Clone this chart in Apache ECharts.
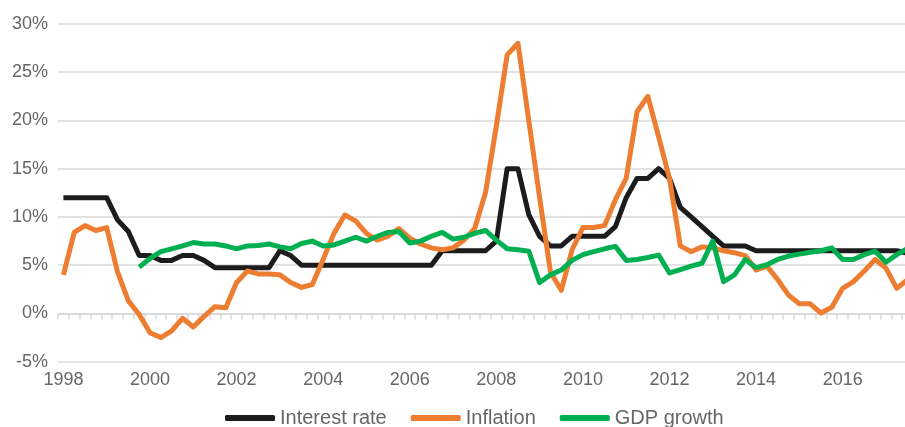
<!DOCTYPE html>
<html>
<head>
<meta charset="utf-8">
<script src="https://cdn.jsdelivr.net/npm/echarts@6/dist/echarts.min.js"></script>
<style>
  html, body { margin: 0; padding: 0; background: #ffffff; }
  #chart { width: 905px; height: 427px; }
</style>
</head>
<body>
<div id="chart"></div>
<script>
var quarters = [
  "1998Q1","1998Q2","1998Q3","1998Q4","1999Q1","1999Q2","1999Q3","1999Q4",
  "2000Q1","2000Q2","2000Q3","2000Q4","2001Q1","2001Q2","2001Q3","2001Q4",
  "2002Q1","2002Q2","2002Q3","2002Q4","2003Q1","2003Q2","2003Q3","2003Q4",
  "2004Q1","2004Q2","2004Q3","2004Q4","2005Q1","2005Q2","2005Q3","2005Q4",
  "2006Q1","2006Q2","2006Q3","2006Q4","2007Q1","2007Q2","2007Q3","2007Q4",
  "2008Q1","2008Q2","2008Q3","2008Q4","2009Q1","2009Q2","2009Q3","2009Q4",
  "2010Q1","2010Q2","2010Q3","2010Q4","2011Q1","2011Q2","2011Q3","2011Q4",
  "2012Q1","2012Q2","2012Q3","2012Q4","2013Q1","2013Q2","2013Q3","2013Q4",
  "2014Q1","2014Q2","2014Q3","2014Q4","2015Q1","2015Q2","2015Q3","2015Q4",
  "2016Q1","2016Q2","2016Q3","2016Q4","2017Q1","2017Q2","2017Q3"
];

var yearTickLabels = ["1998","2000","2002","2004","2006","2008","2010","2012","2014","2016"];

var interestRate = [
  12, 12, 12, 12, 12, 9.7, 8.5, 6,
  6, 5.5, 5.5, 6, 6, 5.5, 4.75, 4.75,
  4.75, 4.75, 4.75, 4.75, 6.5, 6, 5, 5,
  5, 5, 5, 5, 5, 5, 5, 5,
  5, 5, 5, 6.5, 6.5, 6.5, 6.5, 6.5,
  7.5, 15, 15, 10.25, 8, 7, 7, 8,
  8, 8, 8, 9, 12, 14, 14, 15,
  14, 11, 10, 9, 8, 7, 7, 7,
  6.5, 6.5, 6.5, 6.5, 6.5, 6.5, 6.5, 6.5,
  6.5, 6.5, 6.5, 6.5, 6.5, 6.5, 6.25
];

var inflation = [
  4.0, 8.4, 9.1, 8.6, 8.9, 4.3, 1.3, -0.1,
  -2.0, -2.5, -1.8, -0.5, -1.4, -0.3, 0.7, 0.6,
  3.2, 4.4, 4.1, 4.1, 4.0, 3.2, 2.7, 3.0,
  5.6, 8.3, 10.2, 9.6, 8.3, 7.6, 8.0, 8.8,
  7.8, 7.2, 6.8, 6.6, 6.8, 7.6, 8.8, 12.5,
  19.4, 26.8, 28.0, 20.0, 12.0, 4.3, 2.4, 6.6,
  8.9, 8.9, 9.1, 11.8, 14.0, 20.9, 22.5, 18.3,
  14.0, 7.0, 6.4, 6.9, 6.8, 6.5, 6.3, 6.0,
  4.5, 4.9, 3.5, 1.9, 1.0, 1.0, 0.05, 0.65,
  2.6, 3.3, 4.4, 5.6, 4.7, 2.6, 3.5
];

var gdpGrowth = [
  null, null, null, null, null, null, null, 4.8,
  5.7, 6.4, 6.7, 7.0, 7.35, 7.2, 7.2, 7.0,
  6.7, 7.0, 7.05, 7.2, 6.9, 6.7, 7.25, 7.5,
  7.0, 7.1, 7.5, 7.9, 7.5, 8.0, 8.4, 8.5,
  7.3, 7.5, 8.0, 8.4, 7.7, 7.9, 8.3, 8.6,
  7.6, 6.7, 6.6, 6.45, 3.2, 4.0, 4.5, 5.5,
  6.1, 6.4, 6.7, 6.95, 5.5, 5.6, 5.8, 6.05,
  4.2, 4.55, 4.9, 5.2, 7.5, 3.3, 4.0, 5.6,
  4.75, 5.05, 5.6, 5.95, 6.15, 6.35, 6.5, 6.8,
  5.6, 5.6, 6.1, 6.45, 5.3, 6.1, 6.75
];

var seriesNames = ["Interest rate", "Inflation", "GDP growth"];
var seriesColors = ["#1c1c1c", "#ed7d31", "#00b050"];

var FONT = "'Liberation Sans', Arial, sans-serif";
var GRID_COLOR = "#d9d9d9";
var TEXT_COLOR = "#666666";

var chart = echarts.init(document.getElementById('chart'), null, { renderer: 'canvas' });

function lineSeries(name, data, color) {
  return {
    name: name,
    type: 'line',
    data: data,
    xAxisIndex: 0,
    yAxisIndex: 0,
    symbol: 'none',
    showSymbol: false,
    connectNulls: false,
    lineStyle: { color: color, width: 5, join: 'round', cap: 'butt' },
    itemStyle: { color: color },
    emphasis: { disabled: true }
  };
}

chart.setOption({
  animation: false,
  backgroundColor: '#ffffff',
  textStyle: { fontFamily: FONT },
  grid: {
    left: 58, right: -8, top: 24, bottom: 65.3,
    containLabel: false,
    outerBoundsMode: 'none'
  },
  legend: {
    top: 403,
    left: 220,
    itemWidth: 50,
    itemHeight: 6,
    itemGap: 24,
    icon: 'roundRect',
    textStyle: { fontFamily: FONT, fontSize: 20, color: TEXT_COLOR },
    data: seriesNames
  },
  xAxis: [
    {
      type: 'category',
      data: quarters,
      boundaryGap: true,
      axisLine: { show: true, onZero: true, lineStyle: { color: GRID_COLOR, width: 1.5 } },
      axisTick: { show: true, interval: 0, length: 6, lineStyle: { color: GRID_COLOR, width: 1.5 } },
      axisLabel: { show: false },
      splitLine: { show: false }
    },
    {
      type: 'category',
      data: quarters,
      boundaryGap: true,
      position: 'bottom',
      axisLine: { show: false, onZero: false },
      axisTick: { show: false },
      splitLine: { show: false },
      axisLabel: {
        show: true,
        margin: 9,
        fontFamily: FONT,
        fontSize: 18,
        color: TEXT_COLOR,
        interval: function (index, value) {
          return value.slice(4) === 'Q1' && yearTickLabels.indexOf(value.slice(0, 4)) >= 0;
        },
        formatter: function (value) { return value.slice(0, 4); }
      }
    }
  ],
  yAxis: {
    type: 'value',
    min: -5,
    max: 30,
    interval: 5,
    axisLine: { show: false },
    axisTick: { show: false },
    axisLabel: {
      margin: 10,
      fontFamily: FONT,
      fontSize: 18,
      color: TEXT_COLOR,
      formatter: '{value}%'
    },
    splitLine: { show: true, lineStyle: { color: GRID_COLOR, width: 1.5 } }
  },
  series: [
    lineSeries(seriesNames[0], interestRate, seriesColors[0]),
    lineSeries(seriesNames[1], inflation, seriesColors[1]),
    lineSeries(seriesNames[2], gdpGrowth, seriesColors[2])
  ]
});
</script>
</body>
</html>
